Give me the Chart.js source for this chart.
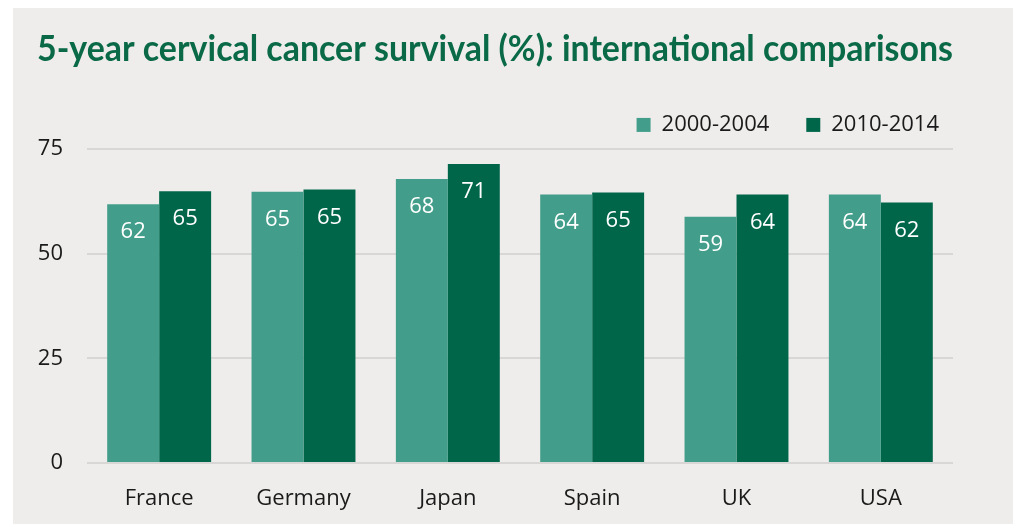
<!DOCTYPE html>
<html>
<head>
<meta charset="utf-8">
<script src="https://cdn.jsdelivr.net/npm/chart.js@4"></script>
<style>
  html, body { margin: 0; padding: 0; background: #fff; }
  #wrap { position: absolute; left: 13px; top: 8px; width: 1000px; height: 516px; background: #eeedeb; }
</style>
</head>
<body>
<div id="wrap"><canvas id="chart" width="1000" height="516"></canvas></div>
<script>
const countries = ['France', 'Germany', 'Japan', 'Spain', 'UK', 'USA']
const period1 = [61.8, 64.8, 67.8, 64.1, 58.8, 64.1]
const period2 = [64.9, 65.3, 71.4, 64.6, 64.1, 62.2]
const seriesNames = ['2000-2004', '2010-2014']
const yTicks = [0, 25, 50, 75]

const lightGreen = '#429e8a'
const darkGreen = '#00664a'

// white value labels just under the top of each bar
const barLabels = {
  id: 'barLabels',
  afterDatasetsDraw(chart) {
    const ctx = chart.ctx
    ctx.save()
    ctx.fillStyle = '#ffffff'
    ctx.font = '22px "Open Sans"'
    ctx.textAlign = 'center'
    ctx.textBaseline = 'middle'
    chart.data.datasets.forEach((ds, i) => {
      chart.getDatasetMeta(i).data.forEach((bar, j) => {
        ctx.fillText(Math.round(ds.data[j]), bar.x, bar.y + 28)
      })
    })
    ctx.restore()
  }
}

// legend: a little taller and nudged right
const legendTweak = {
  id: 'legendTweak',
  beforeLayout(chart) {
    const lg = chart.legend
    if (!lg || lg._tweaked) return
    lg._tweaked = true
    const fit = lg.fit.bind(lg)
    lg.fit = function () { fit(); this.height += 3 }
    const draw = lg.draw.bind(lg)
    lg.draw = function () {
      chart.ctx.save()
      chart.ctx.translate(23, 0)
      draw()
      chart.ctx.restore()
    }
  }
}

new Chart(document.getElementById('chart'), {
  type: 'bar',
  data: {
    labels: countries,
    datasets: [
      { label: seriesNames[0], data: period1, backgroundColor: lightGreen },
      { label: seriesNames[1], data: period2, backgroundColor: darkGreen }
    ]
  },
  options: {
    responsive: false,
    animation: false,
    layout: { padding: { left: 24, right: 60, top: 0, bottom: 0 } },
    datasets: { bar: { categoryPercentage: 0.72, barPercentage: 1.0 } },
    plugins: {
      title: {
        display: true,
        text: '5-year cervical cancer survival (%): international comparisons',
        align: 'start',
        color: '#0a6a48',
        font: { family: 'Lato', size: 36.6, weight: 'bold' },
        padding: { top: 19, bottom: 6 }
      },
      legend: {
        align: 'end',
        labels: {
          boxWidth: 14,
          boxHeight: 14,
          padding: 37,
          color: '#1a1a1a',
          font: { family: 'Open Sans', size: 22 }
        }
      },
      tooltip: { enabled: false }
    },
    scales: {
      x: {
        grid: { display: false },
        border: { display: false },
        afterFit: (scale) => { scale.height = 61 },
        ticks: { color: '#1a1a1a', padding: 15, font: { family: 'Open Sans', size: 22 } }
      },
      y: {
        min: 0,
        max: 75,
        afterBuildTicks: (scale) => { scale.ticks = yTicks.map(v => ({ value: v })) },
        afterFit: (scale) => { scale.width = 50 },
        grid: { color: '#d8d7d5', lineWidth: 2, drawTicks: false },
        border: { display: false },
        ticks: { color: '#1a1a1a', padding: 24, font: { family: 'Open Sans', size: 22 } }
      }
    }
  },
  plugins: [barLabels, legendTweak]
})
</script>
</body>
</html>
